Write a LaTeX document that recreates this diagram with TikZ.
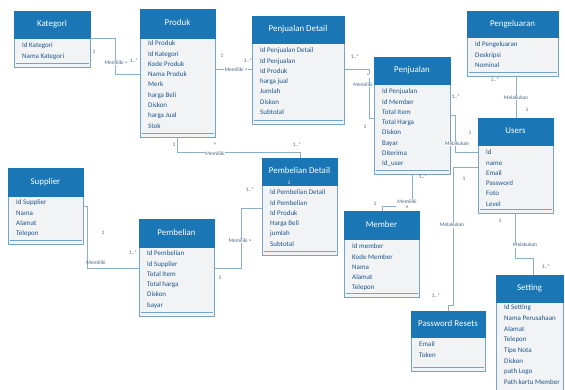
\documentclass[tikz,border=0pt]{standalone}
\usepackage{fontspec}
\setmainfont{Carlito}
\definecolor{headblue}{RGB}{26,118,180}
\definecolor{bodyfill}{RGB}{242,243,245}
\definecolor{boxline}{RGB}{120,163,198}
\definecolor{attrblue}{RGB}{30,85,140}
\definecolor{lblcol}{RGB}{70,100,130}
\definecolor{connline}{RGB}{140,175,200}
\tikzset{
  bodybox/.style={draw=boxline, fill=bodyfill, line width=0.9pt, inner sep=0pt, outer sep=0pt},
  headbox/.style={fill=headblue, draw=headblue, line width=0.4pt, inner sep=0pt, outer sep=0pt},
  headtext/.style={text=white, font=\fontsize{8.9}{10}\selectfont, inner sep=0pt, text height=6pt, text depth=2pt},
  attr/.style={text=attrblue, font=\fontsize{7}{8}\selectfont, inner sep=0pt, anchor=west, text height=5pt, text depth=1.5pt},
  lbl/.style={text=lblcol, font=\fontsize{5.4}{6}\selectfont, inner sep=0.6pt},
  lblw/.style={lbl, fill=white},
  conn/.style={draw=connline, line width=0.7pt},
  sepline/.style={draw=boxline, line width=0.5pt},
}
\def\asep{10.3}
\newcommand{\erbox}[9]{%
  \node[bodybox, anchor=north west, minimum width={#4pt-#2pt}, minimum height={#5pt-#3pt}] (#1) at (#2,#3) {};
  \node[headbox, anchor=north west, minimum width={#4pt-#2pt}, minimum height={#6pt-#3pt}] (#1-h) at (#2,#3) {};
  \node[headtext] (#1-t) at (#1-h.center) {#7};
  \draw[sepline] ([xshift=1.5pt,yshift=3.5pt]#1.south west) -- ([xshift=-1.5pt,yshift=3.5pt]#1.south east);
  \foreach \a [count=\i from 0] in {#9} {\node[attr] (#1-a\i) at ({#2+8},{#8+\i*\asep}) {\a};}
}
\begin{document}
\begin{tikzpicture}[x=1pt, y=-1pt]
\path[use as bounding box, fill=white] (0,0) rectangle (565,389);

% entities
\erbox{kat}{14}{11}{90}{67}{38}{Kategori}{46}{Id Kategori, Nama Kategori}
\erbox{prod}{140}{9}{215}{137}{38}{Produk}{44}{Id Produk, Id Kategori, Kode Produk, Nama Produk, Merk, harga Beli, Diskon, harga Jual, Stok}
\erbox{pjd}{252}{16}{344}{124}{43}{Penjualan Detail}{51}{Id Penjualan Detail, Id Penjualan, Id Produk, harga jual, Jumlah, Diskon, Subtotal}
\erbox{pj}{374}{57}{450}{174}{84}{Penjualan}{92}{Id Penjualan, Id Member, Total Item, Total Harga, Diskon, Bayar, Diterima, Id\_user}
\erbox{peng}{467}{11}{558}{76}{37}{Pengeluaran}{45}{Id Pengeluaran, Deskripsi, Nominal}
\erbox{users}{478}{118}{553}{213}{145}{Users}{153}{Id, name, Email, Password, Foto, Level}
\erbox{sup}{8}{168}{83}{244}{196}{Supplier}{203}{Id Supplier, Nama, Alamat, Telepon}
\erbox{pb}{139}{219}{214}{316}{247}{Pembelian}{254}{Id Pembelian, Id Supplier, Total Item, Total harga, Diskon, bayar}
\erbox{pbd}{262}{158}{337}{255}{185}{Pembelian Detail}{193}{Id Pembelian Detail, Id Pembelian, Id Produk, Harga Beli, jumlah, Subtotal}
\erbox{mem}{344}{211}{419}{297}{239}{Member}{247}{Id member, Kode Member, Nama, Alamat, Telepon}
\erbox{pr}{411}{311}{485}{371}{337}{Password Resets}{345}{Email, Token}
\def\asep{10.7}
\erbox{set}{496}{275}{563}{395}{302}{Setting}{308}{Id Setting, Nama Perusahaan, Alamat, Telepon, Tipe Nota, Diskon, path Logo, Path kartu Member}

% connectors
\draw[conn] (kat-h.south east) -| (115,74) -- (prod.west |- 0,74);
\draw[conn] (prod.east |- 0,69) -- (pjd.west |- 0,69);
\draw[conn] (pjd.east |- 0,69) -| (369,118) -- (pj.west |- 0,118);
\draw[conn] (prod.south -| 177,0) |- (300,152) -- (pbd.north -| 300,0);
\draw[conn] (pj.east |- 0,115) -| (455,152) -- (users.west |- 0,152);
\draw[conn] (peng.south -| 516,0) -- (users.north -| 516,0);
\draw[conn] (users.west |- 0,167) -| (453,305) -| (pr.north -| 448,0);
\draw[conn] (users.south -| 515,0) |- (533,258) -- (set.north -| 533,0);
\draw[conn] (pj.south -| 412,0) |- (382,206) -- (mem.north -| 382,0);
\draw[conn] (sup.east |- 0,206) -| (87,268) -- (pb.west |- 0,268);
\draw[conn] (pb.east |- 0,268) -| (241,208) -- (pbd.west |- 0,208);

% labels
\node[lbl] (l1) at (94,52) {1};
\node[lblw] (l2) at (116,63) {Memiliki >};
\node[lbl] (l3) at (134,61) {1..*};
\node[lbl] (l4) at (222,56) {1};
\node[lblw] (l5) at (236,70) {Memiliki >};
\node[lbl] (l6) at (248,61) {1..*};
\node[lbl] (l7) at (355,57) {1..*};
\node[lblw, inner sep=0.3pt] (l8) at (368,76) {\textasciicircum};
\node[lblw] (l9) at (363,85) {Memiliki};
\node[lbl] (l10) at (365,127) {1};
\node[lbl] (l11) at (174,145) {1};
\node[lbl] (l12) at (215,145) {\textasciicircum};
\node[lblw] (l13) at (215,154) {Memiliki};
\node[lbl] (l14) at (297,145) {1..*};
\node[lbl] (l15) at (456,97) {1..*};
\node[lblw] (l16) at (457,144) {Melakukan};
\node[lbl] (l17) at (470,133) {1};
\node[lbl] (l18) at (495,80) {1..*};
\node[lblw] (l19) at (516,98) {Melakukan};
\node[lbl] (l20) at (527,110) {1};
\node[lbl] (l21) at (464,179) {1};
\node[lblw] (l22) at (452,225) {Melakukan};
\node[lbl] (l23) at (436,296) {1..*};
\node[lbl] (l24) at (500,221) {1};
\node[lblw] (l25) at (525,245) {Melakukan};
\node[lbl] (l26) at (546,267) {1..*};
\node[lbl] (l27) at (423,177) {1..*};
\node[lblw, align=center, inner sep=1pt] (l28) at (407,204) {Memiliki\\[-1.5pt]v};
\node[lbl] (l29) at (375,204) {1};
\node[lbl] (l30) at (103,233) {1};
\node[lbl] (l31) at (96,263) {Memiliki};
\node[lbl] (l32) at (133,253) {1..*};
\node[lbl] (l33) at (250,190) {1..*};
\node[lblw] (l34) at (240,241) {Memiliki >};
\node[lbl] (l35) at (220,278) {1};
\node[lbl, text=white, inner sep=0pt] (l36) at (289,182.5) {1};
\end{tikzpicture}
\end{document}
